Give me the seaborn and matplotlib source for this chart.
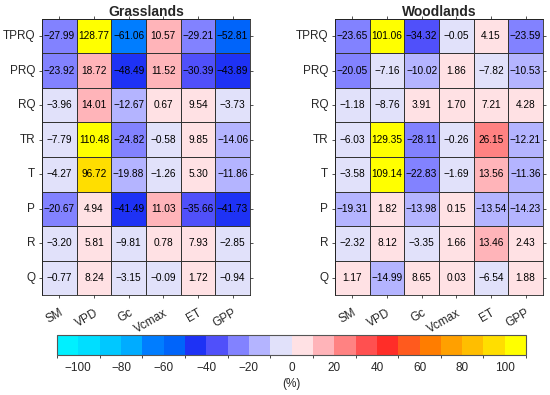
import numpy as np
import pandas as pd
import matplotlib
matplotlib.use('Agg')
import matplotlib.pyplot as plt
from matplotlib.colors import ListedColormap, BoundaryNorm
import seaborn as sns

sns.set_style('white')
plt.rcParams['font.family'] = ['Liberation Sans', 'DejaVu Sans']

drivers = ['TPRQ', 'PRQ', 'RQ', 'TR', 'T', 'P', 'R', 'Q']
variables = ['SM', 'VPD', 'Gc', 'Vcmax', 'ET', 'GPP']

grass = [
    [-27.99, 128.77, -61.06, 10.57, -29.21, -52.81],
    [-23.92, 18.72, -48.49, 11.52, -30.39, -43.89],
    [-3.96, 14.01, -12.67, 0.67, 9.54, -3.73],
    [-7.79, 110.48, -24.82, -0.58, 9.85, -14.06],
    [-4.27, 96.72, -19.88, -1.26, 5.30, -11.86],
    [-20.67, 4.94, -41.49, 11.03, -35.66, -41.73],
    [-3.20, 5.81, -9.81, 0.78, 7.93, -2.85],
    [-0.77, 8.24, -3.15, -0.09, 1.72, -0.94],
]
wood = [
    [-23.65, 101.06, -34.32, -0.05, 4.15, -23.59],
    [-20.05, -7.16, -10.02, 1.86, -7.82, -10.53],
    [-1.18, -8.76, 3.91, 1.70, 7.21, 4.28],
    [-6.03, 129.35, -28.11, -0.26, 26.15, -12.21],
    [-3.58, 109.14, -22.83, -1.69, 13.56, -11.36],
    [-19.31, 1.82, -13.98, 0.15, -13.54, -14.23],
    [-2.32, 8.12, -3.35, 1.66, 13.46, 2.43],
    [1.17, -14.99, 8.65, 0.03, -6.54, 1.88],
]

# one colour per 10 % bin, -110 ... 110
bin_colors = [
    (0, 240, 255), (0, 222, 255), (0, 200, 255), (0, 172, 255), (0, 125, 255),
    (0, 100, 250), (30, 50, 245), (80, 80, 250), (130, 130, 255), (180, 180, 255),
    (225, 225, 250), (255, 225, 228), (255, 180, 185), (255, 130, 130), (255, 80, 80),
    (255, 45, 40), (255, 90, 30), (255, 125, 0), (255, 160, 0), (255, 190, 0),
    (255, 222, 0), (255, 255, 0),
]
bounds = np.arange(-110, 111, 10)
cbar_ticks = np.arange(-100, 101, 20)

cmap = ListedColormap([tuple(c / 255 for c in col) for col in bin_colors])
norm = BoundaryNorm(bounds, cmap.N)

fig = plt.figure(figsize=(5.5, 3.95), dpi=100)
ax1 = fig.add_axes([0.0764, 0.253, 0.378, 0.699])
ax2 = fig.add_axes([0.609, 0.253, 0.378, 0.699])
cax = fig.add_axes([0.1036, 0.101, 0.853, 0.0506])


def draw(ax, values, title, with_cbar):
    df = pd.DataFrame(values, index=drivers, columns=variables)
    labels = np.array([[f'{v:.2f}'.replace('-', '\u2212') for v in row] for row in values])
    sns.heatmap(df, ax=ax, cmap=cmap, norm=norm, annot=labels, fmt='',
                annot_kws={'size': 7.3, 'color': 'black'},
                linewidths=0.5, linecolor='#333333',
                cbar=with_cbar, cbar_ax=cax if with_cbar else None,
                cbar_kws={'orientation': 'horizontal', 'ticks': cbar_ticks})
    for s in ax.spines.values():
        s.set_visible(True)
        s.set_linewidth(0.6)
        s.set_color('#222222')
    ax.tick_params(direction='out', length=2.5, width=0.6, color='#333333',
                   top=True, right=True, bottom=True, left=True,
                   labeltop=False, labelright=False, labelsize=8.5, pad=2.5)
    ax.tick_params(axis='x', pad=6)
    ax.set_yticklabels(drivers, rotation=0)
    ax.set_xticklabels(variables, rotation=30, ha='right', rotation_mode='anchor')
    ax.set_xlabel('')
    ax.set_ylabel('')
    ax.set_title(title, fontsize=10, fontweight='bold', pad=2)


draw(ax1, grass, 'Grasslands', True)
draw(ax2, wood, 'Woodlands', False)

cb = ax1.collections[0].colorbar
cb.outline.set_linewidth(0.8)
cb.outline.set_edgecolor('#555555')
cb.outline.set_visible(True)
cb.ax.tick_params(labelsize=8.5, direction='in', length=3, width=0.6, color='#333333', pad=5)
cb.set_label('(%)', fontsize=8.5, labelpad=3)

fig.savefig('out.png', dpi=100)
